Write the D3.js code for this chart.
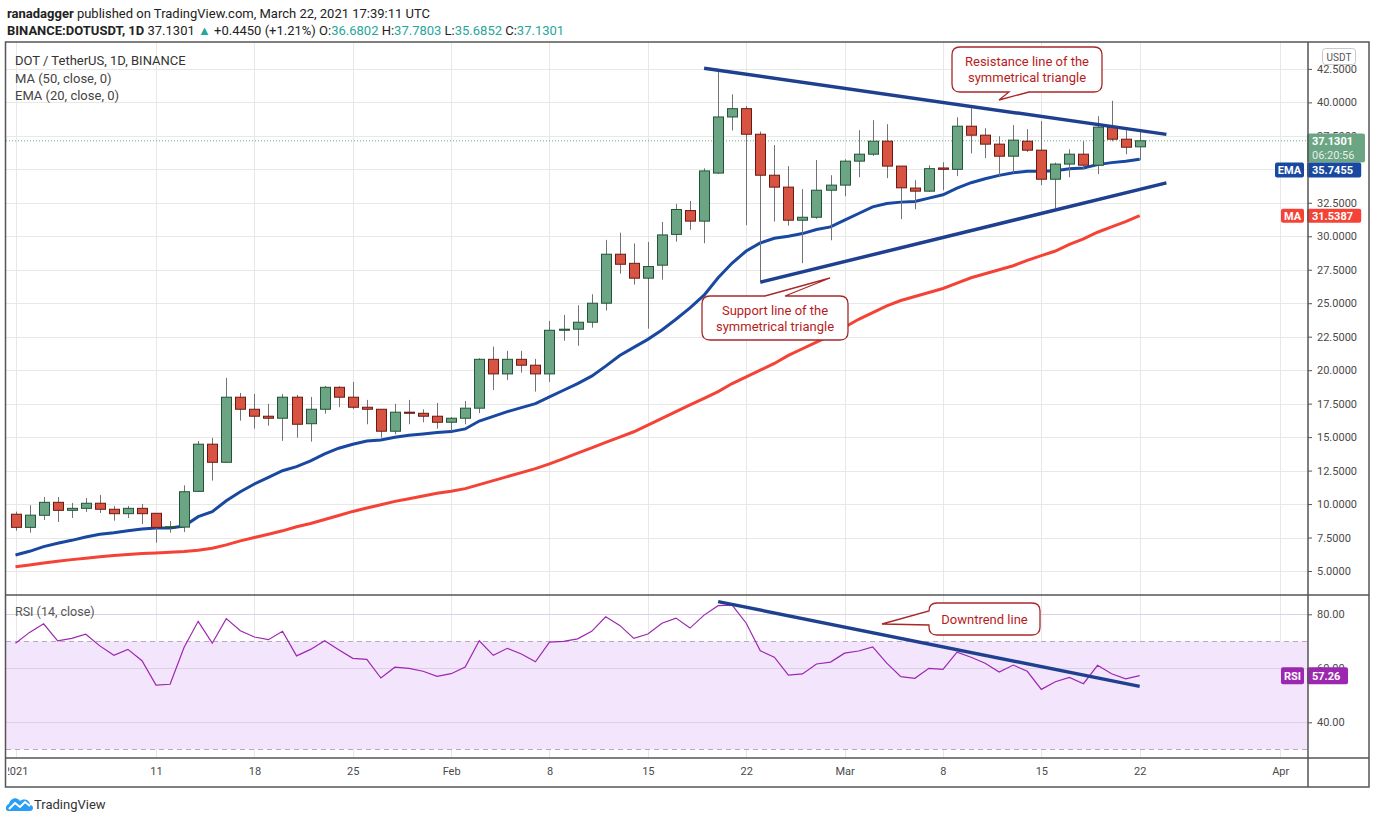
<!DOCTYPE html>
<html>
<head>
<meta charset="utf-8">
<script src="https://cdn.jsdelivr.net/npm/d3@7"></script>
<style>
  body { margin: 0; background: #fff; }
  svg { display: block; font-family: Roboto, "Liberation Sans", sans-serif; }
</style>
</head>
<body>
<svg id="chart" width="1376" height="823"></svg>
<script>
// DOT/USDT daily, Jan 1 – Mar 22 2021
const startDay = Date.UTC(2021, 0, 1);

const opens = [9.24, 8.26, 9.16, 10.13, 9.53, 9.68, 10.06, 9.61, 9.28, 9.68,
  9.31, 8.26, 8.28, 10.95, 14.47, 13.12, 17.98, 17.08, 16.56, 16.41,
  17.98, 16.0, 17.08, 18.72, 17.98, 17.23, 17.08, 15.44, 16.86, 16.78,
  16.56, 16.11, 16.41, 17.16, 20.81, 19.72, 20.81, 20.37, 19.72, 22.98,
  23.06, 23.58, 25.0, 28.66, 27.98, 26.87, 27.84, 30.14, 31.92, 31.13,
  34.72, 38.91, 39.53, 37.62, 34.56, 33.67, 31.2, 31.42, 33.44, 33.82,
  35.61, 36.13, 37.1, 35.24, 33.6, 33.37, 35.1, 35.0, 38.22, 37.55,
  36.88, 35.98, 37.1, 36.43, 34.26, 35.39, 36.13, 35.31, 38.15, 37.25, 36.6802];
const highs = [9.43, 9.91, 10.53, 10.53, 10.08, 10.45, 10.68, 9.86, 9.86, 10.0,
  9.31, 8.73, 11.4, 14.71, 14.94, 19.42, 18.3, 18.22, 17.48, 18.22,
  18.15, 18.0, 18.82, 18.8, 19.12, 17.78, 17.08, 17.48, 17.78, 17.08,
  17.55, 16.5, 17.7, 20.89, 21.76, 21.44, 21.44, 20.84, 23.68, 24.13,
  24.85, 25.67, 29.73, 30.27, 29.46, 29.58, 31.07, 32.42, 32.64, 35.07,
  42.26, 40.6, 39.72, 37.82, 36.81, 35.24, 33.52, 35.7, 34.56, 35.75,
  37.92, 38.67, 38.37, 35.24, 34.19, 35.3, 35.53, 38.89, 39.57, 38.07,
  37.47, 38.3, 38.0, 38.6, 35.5, 36.5, 37.1, 38.97, 40.12, 37.92, 37.7803];
const lows = [8.01, 7.86, 8.81, 8.66, 8.96, 9.41, 9.33, 8.76, 8.96, 8.51,
  7.12, 7.86, 7.91, 10.9, 11.75, 13.1, 16.23, 15.63, 15.86, 14.72,
  14.96, 14.66, 16.75, 17.23, 17.08, 15.96, 14.96, 15.21, 15.96, 16.11,
  15.63, 15.44, 15.96, 16.79, 18.52, 19.27, 19.82, 18.4, 19.12, 22.2,
  21.82, 23.18, 24.45, 27.21, 26.39, 23.1, 26.76, 29.6, 30.48, 29.48,
  34.66, 37.9, 30.83, 26.57, 31.1, 30.8, 27.99, 31.3, 29.7, 32.99,
  34.41, 36.0, 34.34, 31.28, 32.02, 33.3, 33.44, 34.49, 36.19, 35.84,
  34.41, 34.71, 36.3, 33.82, 32.1, 34.41, 35.0, 34.64, 37.1, 36.13, 35.6852];
const closes = [8.26, 9.17, 10.13, 9.53, 9.68, 10.06, 9.61, 9.28, 9.68, 9.28,
  8.26, 8.3, 10.92, 14.47, 13.12, 17.98, 17.08, 16.56, 16.41, 17.98,
  15.96, 17.08, 18.72, 17.98, 17.23, 17.08, 15.44, 16.86, 16.78, 16.56,
  16.11, 16.41, 17.16, 20.81, 19.72, 20.81, 20.37, 19.72, 22.98, 23.06,
  23.58, 25.0, 28.66, 27.91, 26.87, 27.74, 30.1, 32.0, 31.13, 34.88,
  38.91, 39.53, 37.62, 34.56, 33.67, 31.2, 31.42, 33.44, 33.82, 35.61,
  36.13, 37.1, 35.24, 33.62, 33.37, 35.05, 35.0, 38.22, 37.55, 36.88,
  35.98, 37.18, 36.43, 34.26, 35.39, 36.13, 35.31, 38.15, 37.25, 36.65, 37.1301];

const ema20 = [6.2, 6.47, 6.82, 7.07, 7.29, 7.54, 7.74, 7.86, 8.01, 8.14,
  8.21, 8.21, 8.36, 9.06, 9.43, 10.25, 10.92, 11.5, 12.0, 12.49,
  12.79, 13.22, 13.74, 14.17, 14.47, 14.71, 14.79, 14.99, 15.14, 15.24,
  15.34, 15.41, 15.61, 16.2, 16.55, 16.9, 17.2, 17.5, 18.0, 18.5,
  19.0, 19.55, 20.3, 21.1, 21.7, 22.3, 23.0, 23.8, 24.65, 25.6,
  26.9, 28.0, 28.9, 29.5, 29.85, 30.0, 30.2, 30.5, 30.7, 31.2,
  31.7, 32.2, 32.45, 32.55, 32.6, 32.85, 33.1, 33.6, 34.0, 34.3,
  34.55, 34.75, 34.85, 34.85, 34.9, 35.05, 35.1, 35.35, 35.5, 35.6, 35.7455];
const ma50 = [5.32, 5.45, 5.6, 5.73, 5.85, 5.96, 6.07, 6.16, 6.24, 6.3,
  6.35, 6.4, 6.45, 6.55, 6.7, 6.95, 7.25, 7.5, 7.75, 8.0,
  8.3, 8.55, 8.85, 9.15, 9.45, 9.7, 9.95, 10.2, 10.4, 10.6,
  10.8, 10.95, 11.15, 11.45, 11.75, 12.05, 12.35, 12.65, 13.0, 13.4,
  13.8, 14.2, 14.6, 15.0, 15.4, 15.9, 16.4, 16.9, 17.4, 17.9,
  18.4, 19.0, 19.5, 20.0, 20.5, 21.1, 21.6, 22.1, 22.6, 23.2,
  23.8, 24.3, 24.8, 25.2, 25.5, 25.8, 26.1, 26.5, 26.9, 27.2,
  27.5, 27.8, 28.2, 28.55, 28.9, 29.4, 29.8, 30.3, 30.7, 31.1, 31.5387];
const rsi14 = [69.3, 73.3, 76.5, 70.2, 71.1, 72.6, 68.3, 64.8, 67.0, 62.8,
  53.8, 54.1, 67.8, 77.4, 69.3, 78.4, 73.9, 71.6, 70.6, 73.7,
  64.6, 67.0, 70.2, 66.9, 63.7, 63.3, 56.4, 60.4, 60.0, 58.9,
  57.0, 58.0, 60.5, 70.2, 64.8, 67.4, 65.3, 62.4, 69.7, 70.0,
  70.9, 73.7, 79.1, 75.9, 71.1, 72.7, 76.7, 78.6, 74.9, 79.7,
  83.2, 83.4, 76.7, 66.5, 64.1, 57.5, 57.9, 61.6, 62.3, 65.6,
  66.4, 67.9, 61.9, 56.9, 56.3, 60.0, 59.6, 66.0, 64.1, 61.9,
  58.6, 61.2, 58.9, 52.2, 55.0, 56.6, 54.3, 61.1, 58.0, 56.1, 57.26];

// drawn trend lines: [day offset from Jan 1, value]
const resistanceLine = [[49.0, 42.55], [81.9, 37.61]];
const supportLine = [[53.0, 26.57], [81.9, 33.99]];
const rsiDowntrend = [[50.0, 84.7], [80.0, 53.3]];

const priceTicks = [5, 7.5, 10, 12.5, 15, 17.5, 20, 22.5, 25, 27.5, 30, 32.5, 35, 37.5, 40, 42.5];
const rsiTicks = [40, 60, 80];
const dateTickDays = [0, 10, 17, 24, 31, 38, 45, 52, 59, 66, 73, 80, 90];
const dateTickLabels = ['2021', '11', '18', '25', 'Feb', '8', '15', '22', 'Mar', '8', '15', '22', 'Apr'];

const upFill = '#6ba583', upLine = '#225437';
const dnFill = '#d75442', dnLine = '#6b1a13';
const emaColor = '#1848a0', maColor = '#f44336', trendColor = '#1f3f8f';
const rsiColor = '#9c27b0', noteColor = '#a8282a';

const svg = d3.select('#chart');
const paneL = 6, paneR = 1308, frameR = 1369;
const mainTop = 42, mainBot = 595, rsiBot = 758, axisBot = 787;

const day = d => new Date(startDay + d * 864e5);
const x = d3.scaleUtc().domain([day(0), day(80)]).range([15.5, 1139.7]);
const y = d3.scaleLinear().domain([5, 42.5]).range([571, 68.9]);
const yR = d3.scaleLinear().domain([40, 80]).range([722.3, 614.3]);

const defs = svg.append('defs');
defs.append('clipPath').attr('id', 'clipMain')
  .append('rect').attr('x', paneL).attr('y', mainTop).attr('width', paneR - paneL).attr('height', mainBot - mainTop);
defs.append('clipPath').attr('id', 'clipRsi')
  .append('rect').attr('x', paneL).attr('y', mainBot).attr('width', paneR - paneL).attr('height', rsiBot - mainBot);
defs.append('clipPath').attr('id', 'clipTime')
  .append('rect').attr('x', 8).attr('y', rsiBot).attr('width', paneR - 8).attr('height', axisBot - rsiBot);

// header
const head1 = svg.append('text').attr('x', 7).attr('y', 18).attr('font-size', 13).attr('fill', '#222');
head1.append('tspan').attr('font-weight', 'bold').text('ranadagger');
head1.append('tspan').text(' published on TradingView.com, March 22, 2021 17:39:11 UTC');

const teal = '#26a69a';
const head2 = svg.append('text').attr('x', 7).attr('y', 35).attr('font-size', 13).attr('fill', '#222');
[['BINANCE:DOTUSDT, 1D', null, 'bold'], [' 37.1301 ', null], ['▲', teal], [' +0.4450 (+1.21%) O:', null],
 ['36.6802', teal], [' H:', null], ['37.7803', teal], [' L:', null], ['35.6852', teal], [' C:', null], ['37.1301', teal]]
  .forEach(([t, c, w]) => {
    const s = head2.append('tspan').text(t);
    if (c) s.attr('fill', c);
    if (w) s.attr('font-weight', w);
  });

// grid
const grid = svg.append('g').attr('stroke', '#e8e8e8').attr('stroke-width', 1);
grid.selectAll('line.v').data(dateTickDays).join('line')
  .attr('x1', d => Math.round(x(day(d))) + 0.5).attr('x2', d => Math.round(x(day(d))) + 0.5)
  .attr('y1', mainTop).attr('y2', rsiBot);
grid.append('g').attr('clip-path', 'url(#clipMain)').selectAll('line').data(priceTicks).join('line')
  .attr('x1', paneL).attr('x2', paneR)
  .attr('y1', d => Math.round(y(d)) + 0.5).attr('y2', d => Math.round(y(d)) + 0.5);

// RSI background band and levels
svg.append('rect').attr('x', paneL).attr('width', paneR - paneL)
  .attr('y', yR(70)).attr('height', yR(30) - yR(70)).attr('fill', '#f3e5fc');
svg.append('g').attr('stroke', '#dcd0e4').selectAll('line').data(rsiTicks).join('line')
  .attr('x1', paneL).attr('x2', paneR)
  .attr('y1', d => Math.round(yR(d)) + 0.5).attr('y2', d => Math.round(yR(d)) + 0.5);
svg.append('g').attr('stroke', '#b9a9bf').attr('stroke-dasharray', '5,4').selectAll('line').data([70, 30]).join('line')
  .attr('x1', paneL).attr('x2', paneR)
  .attr('y1', d => Math.round(yR(d)) + 0.5).attr('y2', d => Math.round(yR(d)) + 0.5);

// main pane content
const main = svg.append('g').attr('clip-path', 'url(#clipMain)');
const idx = d3.range(closes.length);
const line = arr => d3.line().x(i => x(day(i))).y(i => y(arr[i]))(idx);

main.append('path').attr('d', line(ma50)).attr('fill', 'none').attr('stroke', maColor).attr('stroke-width', 3);
main.append('path').attr('d', line(ema20)).attr('fill', 'none').attr('stroke', emaColor).attr('stroke-width', 3);

// last price dotted line
main.append('line').attr('x1', paneL).attr('x2', paneR)
  .attr('y1', y(closes[80])).attr('y2', y(closes[80]))
  .attr('stroke', upFill).attr('stroke-dasharray', '1,2');

const candle = main.selectAll('g.candle').data(idx).join('g').attr('class', 'candle');
candle.append('line')
  .attr('x1', i => Math.round(x(day(i))) + 0.5).attr('x2', i => Math.round(x(day(i))) + 0.5)
  .attr('y1', i => y(highs[i])).attr('y2', i => y(lows[i]))
  .attr('stroke', '#737375');
candle.append('rect')
  .attr('x', i => Math.round(x(day(i))) - 4.5).attr('width', 10)
  .attr('y', i => y(Math.max(opens[i], closes[i])))
  .attr('height', i => Math.max(1, Math.abs(y(opens[i]) - y(closes[i]))))
  .attr('fill', i => closes[i] >= opens[i] ? upFill : dnFill)
  .attr('stroke', i => closes[i] >= opens[i] ? upLine : dnLine)
  .attr('stroke-width', 1);

const trend = (g, pts, ys) => g.append('path')
  .attr('d', d3.line().x(p => x(day(p[0]))).y(p => ys(p[1]))(pts))
  .attr('fill', 'none').attr('stroke', trendColor).attr('stroke-width', 3.5);
trend(main, resistanceLine, y);
trend(main, supportLine, y);

// legend
const legend = svg.append('g').attr('font-size', 13).attr('fill', '#333');
legend.append('text').attr('x', 15).attr('y', 65).text('DOT / TetherUS, 1D, BINANCE');
legend.append('text').attr('x', 15).attr('y', 83).attr('fill', '#444').text('MA (50, close, 0)');
legend.append('text').attr('x', 15).attr('y', 100).attr('fill', '#444').text('EMA (20, close, 0)');

// RSI pane
const rsiG = svg.append('g').attr('clip-path', 'url(#clipRsi)');
rsiG.append('path')
  .attr('d', d3.line().x(i => x(day(i))).y(i => yR(rsi14[i]))(idx))
  .attr('fill', 'none').attr('stroke', rsiColor).attr('stroke-width', 1.2);
trend(rsiG, rsiDowntrend, yR);
svg.append('text').attr('x', 15).attr('y', 616).attr('font-size', 12.5).attr('fill', '#555').text('RSI (14, close)');

// callouts
function callout(box, w, lines, lineH) {
  const { x0, y0, x1, y1 } = box, r = 8;
  let p = `M${x0 + r},${y0}`;
  if (w.side === 'top') p += `L${w.a},${y0}L${w.tx},${w.ty}L${w.b},${y0}`;
  p += `L${x1 - r},${y0}Q${x1},${y0} ${x1},${y0 + r}L${x1},${y1 - r}Q${x1},${y1} ${x1 - r},${y1}`;
  if (w.side === 'bottom') p += `L${w.b},${y1}L${w.tx},${w.ty}L${w.a},${y1}`;
  p += `L${x0 + r},${y1}Q${x0},${y1} ${x0},${y1 - r}`;
  if (w.side === 'left') p += `L${x0},${w.b}L${w.tx},${w.ty}L${x0},${w.a}`;
  p += `L${x0},${y0 + r}Q${x0},${y0} ${x0 + r},${y0}Z`;
  svg.append('path').attr('d', p).attr('fill', '#fff').attr('stroke', noteColor).attr('stroke-width', 1.3);
  const cy = (y0 + y1) / 2 - (lines.length - 1) * lineH / 2;
  lines.forEach((t, k) => svg.append('text')
    .attr('x', (x0 + x1) / 2).attr('y', cy + k * lineH).attr('dy', '0.35em')
    .attr('text-anchor', 'middle').attr('font-size', 13).attr('fill', '#b71c1c').text(t));
}
callout({ x0: 952, y0: 47, x1: 1102, y1: 92 }, { side: 'bottom', a: 1009, b: 1029, tx: 999, ty: 100 },
  ['Resistance line of the', 'symmetrical triangle'], 16);
callout({ x0: 702, y0: 296, x1: 848, y1: 340 }, { side: 'top', a: 765, b: 785, tx: 830, ty: 278 },
  ['Support line of the', 'symmetrical triangle'], 16);
callout({ x0: 929, y0: 603, x1: 1040, y1: 635 }, { side: 'left', a: 611, b: 625, tx: 882, ty: 624 },
  ['Downtrend line'], 16);

// price axis (the 35.0000 label sits fully under the EMA tag, as in the original)
const pAxis = svg.append('g').attr('transform', `translate(${paneR},0)`)
  .call(d3.axisRight(y).tickValues(priceTicks).tickSize(4).tickPadding(5)
    .tickFormat(d => d === 35 ? '' : d3.format('.4f')(d)));
const rAxis = svg.append('g').attr('transform', `translate(${paneR},0)`)
  .call(d3.axisRight(yR).tickValues(rsiTicks).tickSize(4).tickPadding(5).tickFormat(d3.format('.2f')));
[pAxis, rAxis].forEach(a => {
  a.select('.domain').remove();
  a.selectAll('line').attr('stroke', '#555');
  a.selectAll('text').attr('font-size', 11).attr('fill', '#4a4a4a').attr('font-family', 'Roboto, sans-serif');
});

// time axis
const tWrap = svg.append('g').attr('clip-path', 'url(#clipTime)');
const tAxis = tWrap.append('g').attr('transform', `translate(0,${rsiBot})`)
  .call(d3.axisBottom(x).tickValues(dateTickDays.map(day)).tickSize(0).tickPadding(9)
    .tickFormat((d, i) => dateTickLabels[i]));
tAxis.select('.domain').remove();
tAxis.selectAll('text').attr('font-size', 11).attr('fill', '#4a4a4a').attr('font-family', 'Roboto, sans-serif');

// USDT tag
svg.append('rect').attr('x', 1322.5).attr('y', 48.5).attr('width', 33).attr('height', 16).attr('rx', 3)
  .attr('fill', '#fff').attr('stroke', '#c8c8c8');
svg.append('text').attr('x', 1339).attr('y', 57).attr('dy', '0.35em').attr('text-anchor', 'middle')
  .attr('font-size', 10).attr('fill', '#555').text('USDT');

// price labels on axis
function tag(label, value, color, cy, h, tagX) {
  if (label) {
    svg.append('rect').attr('x', tagX).attr('y', cy - h / 2).attr('width', 1304 - tagX).attr('height', h)
      .attr('rx', 2).attr('fill', color);
    svg.append('text').attr('x', (tagX + 1304) / 2).attr('y', cy).attr('dy', '0.35em').attr('text-anchor', 'middle')
      .attr('font-size', 11).attr('font-weight', 'bold').attr('fill', '#fff').text(label);
  }
  const w = value.length * 6.6 + 8;
  svg.append('rect').attr('x', 1307).attr('y', cy - h / 2).attr('width', w).attr('height', h)
    .attr('rx', 2).attr('fill', color);
  svg.append('text').attr('x', 1312).attr('y', cy).attr('dy', '0.35em')
    .attr('font-size', 11).attr('font-weight', 'bold').attr('fill', '#fff').text(value);
}
// last price box
svg.append('rect').attr('x', 1307).attr('y', 133.5).attr('width', 58).attr('height', 29).attr('rx', 2).attr('fill', upFill);
svg.append('text').attr('x', 1312).attr('y', y(closes[80]) + 0.5).attr('dy', '0.35em')
  .attr('font-size', 11).attr('font-weight', 'bold').attr('fill', '#fff').text('37.1301');
svg.append('text').attr('x', 1312).attr('y', 155).attr('dy', '0.35em')
  .attr('font-size', 11).attr('fill', '#fff').attr('fill-opacity', 0.85).text('06:20:56');
tag('EMA', '35.7455', emaColor, 170, 15, 1275);
tag('MA', d3.format('.4f')(ma50[80]), maColor, y(ma50[80]), 14, 1281);
tag('RSI', d3.format('.2f')(rsi14[80]), rsiColor, yR(rsi14[80]), 17, 1281);

// frame
const frame = svg.append('g').attr('stroke', '#555').attr('stroke-width', 1.5).attr('fill', 'none');
frame.append('rect').attr('x', 5.5).attr('y', mainTop).attr('width', frameR - 5.5).attr('height', axisBot - mainTop);
frame.append('line').attr('x1', 5.5).attr('x2', frameR).attr('y1', mainBot).attr('y2', mainBot);
frame.append('line').attr('x1', 5.5).attr('x2', frameR).attr('y1', rsiBot).attr('y2', rsiBot);
frame.append('line').attr('x1', paneR).attr('x2', paneR).attr('y1', mainTop).attr('y2', axisBot);

// TradingView mark
const logo = svg.append('g').attr('transform', 'translate(6,795)');
logo.append('path')
  .attr('d', 'M2,16 C-1,16 -1,10 3,9 C4,3 11,1 14,6 C18,3 24,5 24,10 C28,10 28,16 24,16 Z')
  .attr('fill', '#2a9df4');
logo.append('path').attr('d', 'M3,14 L9,8 L14,12 L19,7 L24,11')
  .attr('fill', 'none').attr('stroke', '#fff').attr('stroke-width', 2);
svg.append('text').attr('x', 34).attr('y', 809).attr('font-size', 13).attr('fill', '#333').text('TradingView');
</script>
</body>
</html>
